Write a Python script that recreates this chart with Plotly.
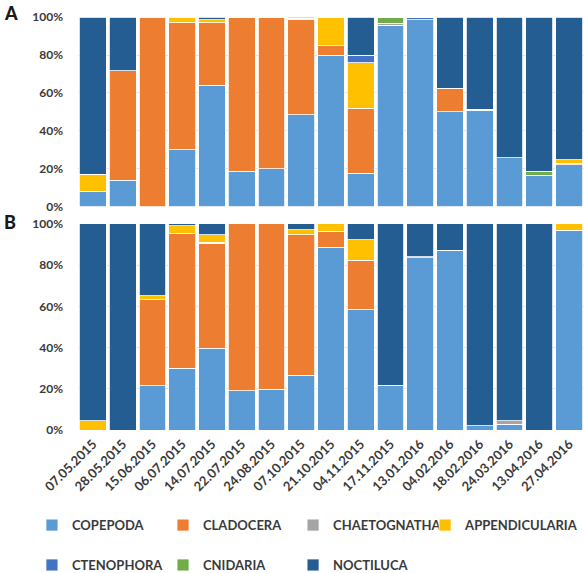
import plotly.graph_objects as go

# Sampling dates (shared by both panels)
dates = ["07.05.2015", "28.05.2015", "15.06.2015", "06.07.2015", "14.07.2015",
         "22.07.2015", "24.08.2015", "07.10.2015", "21.10.2015", "04.11.2015",
         "17.11.2015", "13.01.2016", "04.02.2016", "18.02.2016", "24.03.2016",
         "13.04.2016", "27.04.2016"]

taxa = ["COPEPODA", "CLADOCERA", "CHAETOGNATHA", "APPENDICULARIA",
        "CTENOPHORA", "CNIDARIA", "NOCTILUCA"]
colors = ["#5B9BD5", "#ED7D31", "#A5A5A5", "#FFC000",
          "#4472C4", "#70AD47", "#235D91"]

y_ticks = [0, 20, 40, 60, 80, 100]
y_tick_labels = ["0%", "20%", "40%", "60%", "80%", "100%"]

# Panel A – relative abundance (%)
a_copepoda       = [8.2, 14.2, 0.0, 30.2, 64.2, 18.9, 20.1, 48.6, 79.9, 17.8, 95.6, 98.6, 50.2, 51.0, 26.0, 16.6, 22.2]
a_cladocera      = [0.0, 57.5, 99.5, 66.7, 32.7, 80.6, 79.9, 50.2, 4.9, 34.1, 0.0, 0.0, 12.2, 0.5, 0.0, 0.0, 0.5]
a_chaetognatha   = [0.0, 0.0, 0.2, 0.0, 0.0, 0.5, 0.0, 0.5, 0.0, 0.0, 1.0, 0.0, 0.0, 0.0, 0.0, 0.0, 0.0]
a_appendicularia = [9.0, 0.0, 0.0, 2.6, 1.7, 0.0, 0.0, 0.0, 15.2, 24.0, 0.0, 0.0, 0.0, 0.0, 0.0, 0.0, 2.2]
a_ctenophora     = [0.0, 0.0, 0.0, 0.0, 0.0, 0.0, 0.0, 0.0, 0.0, 4.0, 0.0, 1.4, 0.0, 0.0, 0.0, 0.0, 0.0]
a_cnidaria       = [0.0, 0.0, 0.0, 0.0, 0.0, 0.0, 0.0, 0.0, 0.0, 0.0, 3.4, 0.0, 0.0, 0.0, 0.0, 2.3, 0.0]
a_noctiluca      = [82.8, 28.3, 0.3, 0.5, 1.4, 0.0, 0.0, 0.7, 0.0, 20.1, 0.0, 0.0, 37.6, 48.5, 74.0, 81.1, 75.1]

# Panel B – relative abundance (%)
b_copepoda       = [0.0, 0.0, 21.4, 30.0, 39.7, 19.1, 19.8, 26.6, 88.7, 58.3, 21.6, 83.5, 87.2, 2.1, 2.9, 0.0, 96.9]
b_cladocera      = [0.0, 0.0, 41.8, 65.3, 50.9, 80.9, 80.2, 68.2, 7.8, 24.0, 0.0, 0.0, 0.0, 0.0, 0.0, 0.0, 0.0]
b_chaetognatha   = [0.0, 0.0, 0.0, 0.0, 0.6, 0.0, 0.0, 0.0, 0.0, 0.0, 0.0, 0.0, 0.0, 0.0, 1.6, 0.0, 0.0]
b_appendicularia = [4.5, 0.0, 2.0, 3.7, 3.6, 0.0, 0.0, 2.3, 3.5, 10.1, 0.0, 0.0, 0.0, 0.0, 0.0, 0.0, 3.1]
b_ctenophora     = [0.0, 0.0, 0.0, 0.0, 0.0, 0.0, 0.0, 0.0, 0.0, 0.0, 0.0, 0.5, 0.0, 0.0, 0.0, 0.0, 0.0]
b_cnidaria       = [0.0, 0.0, 0.0, 0.0, 0.0, 0.0, 0.0, 0.0, 0.0, 0.0, 0.0, 0.0, 0.0, 0.0, 0.0, 0.0, 0.0]
b_noctiluca      = [95.5, 100.0, 34.8, 1.0, 5.2, 0.0, 0.0, 2.9, 0.0, 7.6, 78.4, 16.0, 12.8, 97.9, 95.5, 100.0, 0.0]

panel_a = [a_copepoda, a_cladocera, a_chaetognatha, a_appendicularia,
           a_ctenophora, a_cnidaria, a_noctiluca]
panel_b = [b_copepoda, b_cladocera, b_chaetognatha, b_appendicularia,
           b_ctenophora, b_cnidaria, b_noctiluca]

TEXT = "#3A3A3A"
FONT = "Lato"

# legend laid out as a 4-column grid: one small vertical legend per column
legend_ids = ["legend", "legend2", "legend3", "legend4",
              "legend", "legend2", "legend3"]
column_x = [-0.091, 0.168, 0.425, 0.686]

fig = go.Figure()
for i, (name, col) in enumerate(zip(taxa, colors)):
    fig.add_trace(go.Bar(x=dates, y=panel_a[i], name=name, marker_color=col,
                         marker_line=dict(color="white", width=0.8),
                         legendgroup=name, legend=legend_ids[i],
                         xaxis="x", yaxis="y"))
    fig.add_trace(go.Bar(x=dates, y=panel_b[i], name=name, marker_color=col,
                         marker_line=dict(color="white", width=0.8),
                         legendgroup=name, showlegend=False,
                         xaxis="x2", yaxis="y2"))

yax = dict(range=[0, 100], tickmode="array", tickvals=y_ticks,
           ticktext=y_tick_labels,
           showgrid=True, gridcolor="#E3E3E3", gridwidth=1, zeroline=False,
           showline=False, ticks="", ticklabelstandoff=14,
           tickfont=dict(family=FONT, size=12, color=TEXT, weight=700))

legend_style = dict(orientation="v", xanchor="left", yanchor="top",
                    y=-0.194, itemwidth=30, traceorder="grouped",
                    tracegroupgap=20, bgcolor="rgba(0,0,0,0)",
                    font=dict(family=FONT, size=13, color=TEXT, weight=700))

fig.update_layout(
    width=584, height=573,
    margin=dict(l=78, r=0, t=17, b=143, autoexpand=False),
    barmode="stack", bargap=0.1,
    plot_bgcolor="white", paper_bgcolor="white",
    font=dict(family=FONT, color=TEXT),
    xaxis=dict(domain=[0, 1], anchor="y", showticklabels=False,
               showgrid=False, showline=False, ticks=""),
    yaxis=dict(domain=[0.540, 1.0], anchor="x", **yax),
    xaxis2=dict(domain=[0, 1], anchor="y2", tickangle=-45, showgrid=False,
                showline=False, ticks="", ticklabelstandoff=3,
                tickfont=dict(family=FONT, size=13, color=TEXT, weight=700)),
    yaxis2=dict(domain=[0.0, 0.499], anchor="x2", **yax),
    legend=dict(x=column_x[0], **legend_style),
    legend2=dict(x=column_x[1], **legend_style),
    legend3=dict(x=column_x[2], **legend_style),
    legend4=dict(x=column_x[3], **legend_style),
    annotations=[
        dict(text="A", xref="paper", yref="paper", x=-0.15, y=1.01,
             xanchor="left", yanchor="middle", showarrow=False,
             font=dict(family=FONT, size=18, color="#1A1A1A", weight=900)),
        dict(text="B", xref="paper", yref="paper", x=-0.15, y=0.503,
             xanchor="left", yanchor="middle", showarrow=False,
             font=dict(family=FONT, size=18, color="#1A1A1A", weight=900)),
    ],
)

fig.write_html("out.html")
